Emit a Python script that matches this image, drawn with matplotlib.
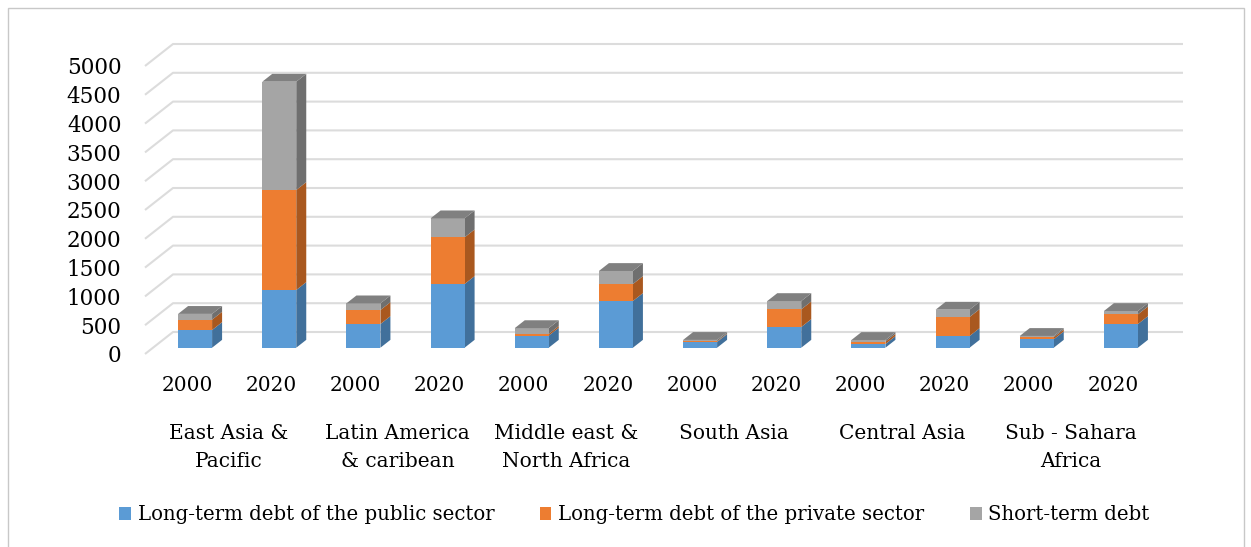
import numpy as np
import matplotlib
matplotlib.use("Agg")
from matplotlib import pyplot as plt
from matplotlib.patches import Polygon, Patch, Rectangle

plt.rcParams['font.family'] = ['DejaVu Serif']

regions = ['East Asia &\nPacific', 'Latin America\n& caribean', 'Middle east &\nNorth Africa',
           'South Asia', 'Central Asia', 'Sub - Sahara\nAfrica']
years = ['2000', '2020']
series = ['Long-term debt of the public sector', 'Long-term debt of the private sector', 'Short-term debt']

# one value per bar: region x year, in order 2000, 2020
public  = [307, 1002, 411, 1106, 210, 811, 100, 359, 64, 203, 146, 411]
private = [180, 1736, 243, 810, 30, 295, 10, 307, 40, 330, 35, 168]
short   = [100, 1880, 116, 330, 100, 226, 25, 144, 30, 127, 23, 58]

yticks = np.arange(0, 5001, 500)

front = ['#5B9BD5', '#ED7D31', '#A5A5A5']
side  = ['#41709B', '#A9581F', '#6F6F6F']
top   = ['#4A82B5', '#C8672A', '#808080']

W, H = 1251, 547
fig = plt.figure(figsize=(W/100, H/100), dpi=100)

# frame around the chart area
fig.patches.append(Rectangle((8/W, -0.1), (W-8-7)/W, (H-8)/H+0.1, transform=fig.transFigure,
                             fill=False, edgecolor='#C8C8C8', lw=1.0))

# data axes: front plane of the floor
x0, x1, y0, y1 = 145, 1155, 354, 66
ax = fig.add_axes([x0/W, (H-y0)/H, (x1-x0)/W, (y0-y1)/H])
n = len(public)
ax.set_xlim(-0.5, n-0.5)
ax.set_ylim(0, 5000)
ax.patch.set_alpha(0)
for sp in ax.spines.values():
    sp.set_visible(False)

px_x = (x1-x0)/n            # pixels per category
px_y = (y0-y1)/5000.0       # pixels per unit
DX = 28/px_x                # depth offset of the back wall, data units
DY = 22/px_y

def proj(x, v, z):
    return (x + z*DX, v + z*DY)

# walls: diagonal on the left side, horizontal on the back
for v in yticks:
    pts = [proj(-0.5, v, 0), proj(-0.5, v, 1), proj(n-0.5, v, 1)]
    ax.plot([p[0] for p in pts], [p[1] for p in pts], color='#DCDCDC', lw=1.5,
            solid_capstyle='butt', clip_on=False, zorder=1)

hw = 0.202
z0, z1 = 0.286, 0.643
vals = np.array([public, private, short])
for i in range(n):
    base = 0
    for s in range(3):
        b, t = base, base + vals[s, i]
        fr = [proj(i-hw, b, z0), proj(i+hw, b, z0), proj(i+hw, t, z0), proj(i-hw, t, z0)]
        sd = [proj(i+hw, b, z0), proj(i+hw, b, z1), proj(i+hw, t, z1), proj(i+hw, t, z0)]
        ax.add_patch(Polygon(sd, closed=True, facecolor=side[s], edgecolor='none', clip_on=False, zorder=3))
        ax.add_patch(Polygon(fr, closed=True, facecolor=front[s], edgecolor='none', clip_on=False, zorder=3))
        base = t
    tp = [proj(i-hw, base, z0), proj(i+hw, base, z0), proj(i+hw, base, z1), proj(i-hw, base, z1)]
    ax.add_patch(Polygon(tp, closed=True, facecolor=top[2], edgecolor='none', clip_on=False, zorder=3))

ax.set_yticks(yticks)
ax.set_yticklabels([str(v) for v in yticks], fontsize=15.5)
ax.set_xticks(range(n))
ax.set_xticklabels(years*len(regions), fontsize=14.5)
ax.tick_params(length=0)
ax.tick_params(axis='y', pad=17)
ax.tick_params(axis='x', pad=16)
for k, r in enumerate(regions):
    ax.text(2*k+0.5, -1215, r, ha='center', va='top', fontsize=14.5, linespacing=1.6)

handles = [Patch(facecolor=c) for c in front]
fig.legend(handles, series, loc='center', bbox_to_anchor=(0.507, 1-515/H), ncol=3,
           frameon=False, fontsize=14.2, handlelength=0.6, handleheight=0.6,
           handletextpad=0.35, columnspacing=2.3)

plt.savefig('out.png', dpi=100)
